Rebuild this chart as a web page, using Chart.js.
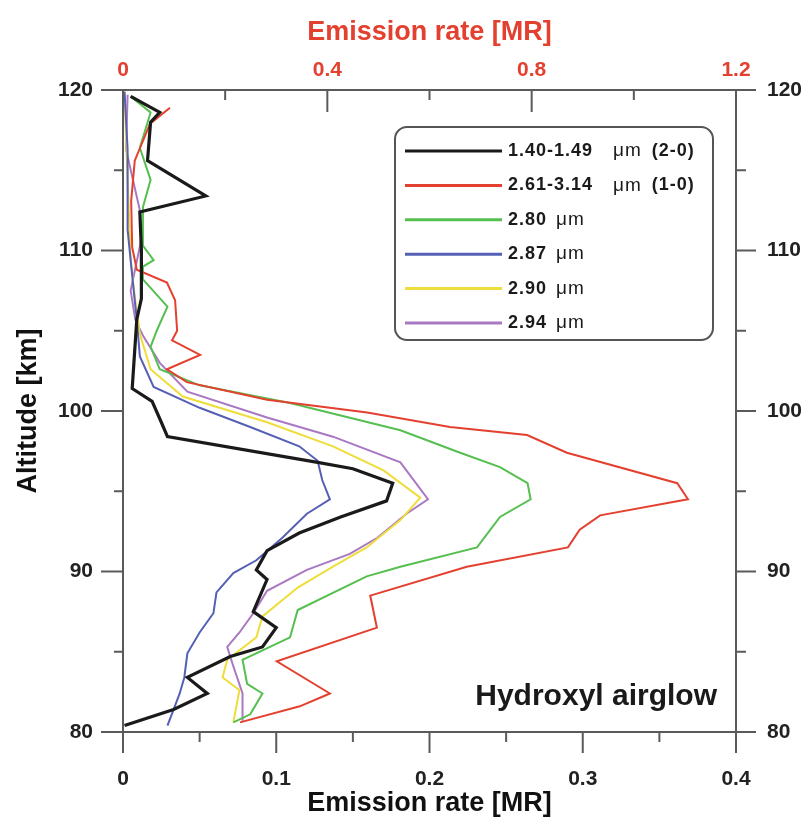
<!DOCTYPE html>
<html>
<head>
<meta charset="utf-8">
<script src="https://cdn.jsdelivr.net/npm/chart.js@4.4.1/dist/chart.umd.min.js"></script>
<style>
  html, body { margin: 0; padding: 0; background: #fff; }
  #wrap { width: 804px; height: 824px; }
</style>
</head>
<body>
<div id="wrap"><canvas id="c" width="804" height="824"></canvas></div>
<script>
// ---- Data (altitude in km, emission rate in MR) ----
const seriesLabels = [
  '1.40-1.49  μm (2-0)',
  '2.61-3.14  μm (1-0)',
  '2.80 μm',
  '2.87 μm',
  '2.90 μm',
  '2.94 μm'
];
const seriesColors = ['#1a1a1a', '#e4402f', '#55bf4f', '#5560b5', '#eedd3a', '#a978c2'];
const seriesWidths = [3.2, 2, 2, 2, 2, 2];

// 1.40-1.49 um (2-0), bottom axis
const blackAlt = [119.6, 118.6, 118.0, 115.6, 113.4, 112.4, 110.0, 107.0, 105.7, 101.4, 100.6, 99.3, 98.4, 96.8, 96.4, 95.5, 94.4, 93.4, 92.4, 91.3, 90.1, 89.5, 87.5, 86.5, 85.3, 84.7, 83.4, 82.4, 81.4, 80.4];
const blackVal = [0.005, 0.024, 0.018, 0.016, 0.054, 0.011, 0.012, 0.012, 0.009, 0.006, 0.019, 0.025, 0.029, 0.127, 0.150, 0.176, 0.172, 0.142, 0.115, 0.094, 0.087, 0.094, 0.085, 0.100, 0.091, 0.070, 0.042, 0.055, 0.033, 0.001];

// 2.61-3.14 um (1-0), top axis (0-1.2 MR)
const redAlt = [118.9, 117.9, 115.6, 113.1, 110.2, 108.8, 108.0, 106.9, 105.0, 104.4, 103.5, 102.6, 101.8, 100.7, 99.9, 99.0, 98.5, 97.4, 95.5, 94.5, 93.5, 92.6, 91.5, 90.3, 88.5, 86.5, 84.4, 82.4, 81.6, 80.6];
const redVal = [0.092, 0.053, 0.023, 0.016, 0.018, 0.027, 0.086, 0.102, 0.106, 0.096, 0.151, 0.086, 0.125, 0.282, 0.478, 0.640, 0.791, 0.869, 1.085, 1.106, 0.934, 0.894, 0.871, 0.673, 0.484, 0.497, 0.301, 0.405, 0.346, 0.229];

// 2.80 um
const greenAlt = [119.6, 118.6, 116.4, 114.4, 112.7, 110.3, 109.4, 109.0, 108.2, 106.5, 105.0, 104.0, 102.6, 101.6, 100.5, 98.8, 97.4, 96.5, 95.5, 94.5, 93.4, 91.5, 90.3, 89.7, 87.6, 85.9, 84.5, 83.0, 82.4, 81.1, 80.6];
const greenVal = [0.005, 0.018, 0.011, 0.018, 0.013, 0.013, 0.020, 0.013, 0.013, 0.029, 0.022, 0.018, 0.024, 0.050, 0.109, 0.181, 0.220, 0.246, 0.264, 0.266, 0.246, 0.231, 0.181, 0.159, 0.114, 0.109, 0.078, 0.081, 0.091, 0.083, 0.072];

// 2.87 um
const blueAlt = [119.9, 116.3, 111.3, 107.5, 105.7, 103.4, 101.5, 100.2, 99.0, 97.8, 96.9, 95.7, 94.5, 93.6, 92.1, 90.7, 89.9, 88.7, 87.4, 86.2, 84.9, 83.4, 82.4, 81.4, 80.4];
const blueVal = [0.001, 0.003, 0.003, 0.007, 0.009, 0.011, 0.020, 0.050, 0.083, 0.115, 0.127, 0.130, 0.135, 0.120, 0.104, 0.087, 0.072, 0.061, 0.059, 0.050, 0.042, 0.040, 0.037, 0.033, 0.029];

// 2.90 um
const yellowAlt = [119.9, 114.4, 109.4, 106.9, 104.8, 102.6, 100.9, 99.3, 97.8, 96.3, 94.6, 93.2, 91.5, 90.3, 89.0, 87.2, 85.9, 84.5, 83.4, 82.6, 80.6];
const yellowVal = [0.001, 0.003, 0.005, 0.008, 0.011, 0.018, 0.039, 0.094, 0.137, 0.170, 0.194, 0.181, 0.159, 0.137, 0.114, 0.091, 0.087, 0.068, 0.065, 0.076, 0.072];

// 2.94 um
const purpleAlt = [119.7, 116.3, 112.5, 110.7, 107.5, 105.7, 104.7, 103.0, 101.2, 99.6, 98.4, 96.8, 94.5, 93.6, 92.1, 91.1, 90.1, 88.8, 87.4, 86.2, 85.3, 84.1, 82.4, 80.7];
const purpleVal = [0.003, 0.002, 0.011, 0.012, 0.005, 0.008, 0.013, 0.024, 0.042, 0.094, 0.137, 0.181, 0.199, 0.185, 0.166, 0.148, 0.120, 0.094, 0.085, 0.076, 0.068, 0.072, 0.078, 0.078];

// Axis ranges / tick steps
const xRange = [0, 0.4], xStep = 0.1;
const x2Range = [0, 1.2], x2Step = 0.4;
const yRange = [80, 120], yStep = 10;
const axisTitle = 'Emission rate [MR]';
const yTitle = 'Altitude [km]';
const annotation = 'Hydroxyl airglow';

// ---- Build datasets ----
const zip = (alt, val) => alt.map((a, i) => ({ x: val[i], y: a }));
const seriesData = [
  [zip(blackAlt, blackVal), 'x'],
  [zip(redAlt, redVal), 'x2'],
  [zip(greenAlt, greenVal), 'x'],
  [zip(blueAlt, blueVal), 'x'],
  [zip(yellowAlt, yellowVal), 'x'],
  [zip(purpleAlt, purpleVal), 'x']
];
const datasets = seriesData.map(([d, ax], i) => ({
  label: seriesLabels[i],
  data: d,
  xAxisID: ax,
  yAxisID: 'y',
  borderColor: seriesColors[i],
  backgroundColor: seriesColors[i],
  borderWidth: seriesWidths[i],
  showLine: true,
  pointRadius: 0,
  tension: 0,
  fill: false
}));

const FONT = '"Liberation Sans", Arial, sans-serif';
const RED = '#e4402f';
const AXIS = '#5a5a5a';

// ---- Plugin: tick marks (major from scale ticks, minor at midpoints) ----
const tickMarks = {
  id: 'tickMarks',
  afterDraw(chart) {
    const { ctx, chartArea: a, scales } = chart;
    ctx.save();
    ctx.strokeStyle = AXIS;
    ctx.lineWidth = 2;
    const go = (scale, horiz, base, dir, majLen, minLen) => {
      const v = scale.ticks.map(t => t.value);
      const mins = [];
      for (let i = 0; i < v.length - 1; i++) mins.push((v[i] + v[i + 1]) / 2);
      const line = (val, len) => {
        const p = scale.getPixelForValue(val);
        ctx.beginPath();
        if (horiz) { ctx.moveTo(p, base); ctx.lineTo(p, base + dir * len); }
        else { ctx.moveTo(base, p); ctx.lineTo(base + dir * len, p); }
        ctx.stroke();
      };
      v.forEach(val => line(val, majLen));
      mins.forEach(val => line(val, minLen));
    };
    go(scales.x, true, a.bottom, 1, 21, 10);
    go(scales.x2, true, a.top, 1, 22, 10);
    go(scales.y, false, a.left, -1, 22, 9);
    go(scales.y2, false, a.right, 1, 20, 10);
    ctx.restore();
  }
};

// ---- Plugin: boxed legend + annotation ----
const boxLegend = {
  id: 'boxLegend',
  afterDraw(chart) {
    const { ctx, chartArea: a } = chart;
    ctx.save();
    const bx = a.left + 272, by = a.top + 37, bw = 318, bh = 213, r = 12;
    ctx.beginPath();
    ctx.moveTo(bx + r, by);
    ctx.arcTo(bx + bw, by, bx + bw, by + bh, r);
    ctx.arcTo(bx + bw, by + bh, bx, by + bh, r);
    ctx.arcTo(bx, by + bh, bx, by, r);
    ctx.arcTo(bx, by, bx + bw, by, r);
    ctx.closePath();
    ctx.fillStyle = '#fff';
    ctx.fill();
    ctx.strokeStyle = '#555';
    ctx.lineWidth = 2;
    ctx.stroke();

    ctx.textBaseline = 'middle';
    if ('letterSpacing' in ctx) ctx.letterSpacing = '1px';
    chart.data.datasets.forEach((ds, i) => {
      const y = by + 24 + i * 34.4;
      ctx.strokeStyle = ds.borderColor;
      ctx.lineWidth = 3;
      ctx.beginPath();
      ctx.moveTo(bx + 10, y);
      ctx.lineTo(bx + 107, y);
      ctx.stroke();
      let x = bx + 113;
      const parts = ds.label.split('μm');
      ctx.fillStyle = '#1a1a1a';
      parts.forEach((p, k) => {
        ctx.font = 'bold 18px ' + FONT;
        ctx.fillText(p, x, y);
        x += ctx.measureText(p).width;
        if (k < parts.length - 1) {
          x += p.endsWith('  ') ? 8 : 3;
          ctx.font = '19px ' + FONT;
          ctx.fillText('μm', x, y);
          x += ctx.measureText('μm').width + 4;
        }
      });
    });
    if ('letterSpacing' in ctx) ctx.letterSpacing = '0px';

    ctx.font = 'bold 30px ' + FONT;
    ctx.fillStyle = '#1a1a1a';
    ctx.textAlign = 'right';
    ctx.textBaseline = 'alphabetic';
    ctx.fillText(annotation, a.right - 19, a.bottom - 27);
    ctx.restore();
  }
};

const tickFont = { family: FONT, size: 21, weight: 'bold' };
const titleFont = { family: FONT, size: 27, weight: 'bold' };
const noGrid = { display: false, drawTicks: false };
const border = { display: true, color: AXIS, width: 2 };

new Chart(document.getElementById('c'), {
  type: 'scatter',
  data: { datasets },
  plugins: [tickMarks, boxLegend],
  options: {
    responsive: false,
    animation: false,
    layout: { padding: 0 },
    plugins: { legend: { display: false }, tooltip: { enabled: false } },
    scales: {
      x: {
        type: 'linear', position: 'bottom', min: xRange[0], max: xRange[1],
        ticks: { stepSize: xStep, padding: 35, font: tickFont, color: '#222', autoSkip: false, maxRotation: 0 },
        grid: noGrid, border,
        title: { display: true, text: axisTitle, font: titleFont, color: '#111', padding: { top: 0, bottom: 4 } },
        afterFit(s) { s.height = 92; }
      },
      x2: {
        type: 'linear', position: 'top', min: x2Range[0], max: x2Range[1],
        ticks: { stepSize: x2Step, padding: 7, font: tickFont, color: RED, autoSkip: false, maxRotation: 0 },
        grid: noGrid, border,
        title: { display: true, text: axisTitle, font: titleFont, color: RED, padding: { top: 16, bottom: 0 } },
        afterFit(s) { s.height = 90; }
      },
      y: {
        type: 'linear', position: 'left', min: yRange[0], max: yRange[1],
        ticks: { stepSize: yStep, padding: 30, font: tickFont, color: '#222', autoSkip: false },
        grid: noGrid, border,
        title: { display: true, text: yTitle, font: titleFont, color: '#111', padding: { top: 12, bottom: 0 } },
        afterFit(s) { s.width = 123; }
      },
      y2: {
        type: 'linear', position: 'right', min: yRange[0], max: yRange[1],
        ticks: { stepSize: yStep, padding: 31, font: tickFont, color: '#222', autoSkip: false },
        grid: noGrid, border,
        afterFit(s) { s.width = 68; }
      }
    }
  }
});
</script>
</body>
</html>
